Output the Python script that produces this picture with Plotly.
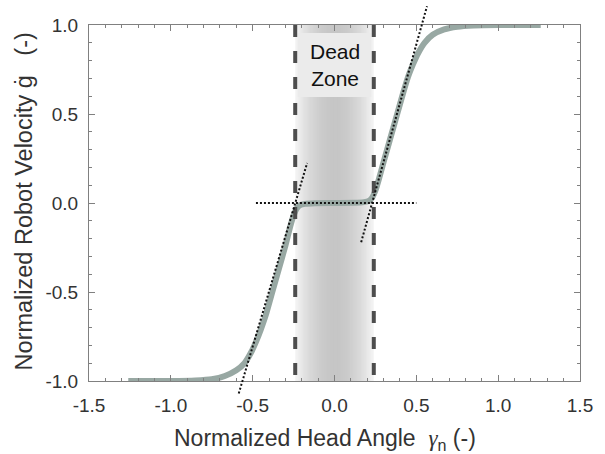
import plotly.graph_objects as go

# ---------------- data ----------------
X_RANGE = [-1.5, 1.5]
Y_RANGE = [-1.0, 1.0]
x_tickvals = [-1.5, -1.0, -0.5, 0.0, 0.5, 1.0, 1.5]
x_ticktext = ["-1.5", "-1.0", "-0.5", "0.0", "0.5", "1.0", "1.5"]
y_tickvals = [-1.0, -0.5, 0.0, 0.5, 1.0]
y_ticktext = ["-1.0", "-0.5", "0.0", "0.5", "1.0"]

head_angle = [-1.26, -1.00, -0.85, -0.75, -0.67, -0.60, -0.55, -0.51, -0.48, -0.45,
              -0.42, -0.38, -0.34, -0.30, -0.27, -0.25, -0.23, -0.21, -0.18, -0.12,
              0.00,
              0.12, 0.18, 0.21, 0.23, 0.25, 0.27, 0.30, 0.34, 0.38, 0.42,
              0.45, 0.48, 0.51, 0.55, 0.60, 0.67, 0.75, 0.85, 1.00, 1.26]
robot_velocity = [-1.0, -1.0, -0.997, -0.99, -0.972, -0.94, -0.90, -0.84, -0.78, -0.71,
                  -0.63, -0.50, -0.37, -0.24, -0.13, -0.07, -0.03, -0.012, -0.005, -0.001,
                  0.0,
                  0.001, 0.005, 0.012, 0.03, 0.07, 0.13, 0.23, 0.36, 0.49, 0.62,
                  0.71, 0.78, 0.84, 0.90, 0.945, 0.975, 0.99, 0.997, 1.0, 1.0]

dead_zone = [-0.24, 0.24]
label_box_x = [-0.225, 0.225]
label_box_y = [0.595, 0.955]
label_text = "Dead<br>Zone"
label_pos = [0.0, 0.775]

tangent_left_x = [-0.585, -0.167]
tangent_left_y = [-1.07, 0.225]
tangent_right_x = [0.163, 0.565]
tangent_right_y = [-0.22, 1.105]
zero_line_x = [-0.48, 0.50]
zero_line_y = [0.0, 0.0]

# ---------------- figure ----------------
FONT = "Liberation Sans, Arial, sans-serif"
fig = go.Figure()

fig.add_trace(go.Scatter(
    x=head_angle, y=robot_velocity, mode="lines",
    line=dict(color="#98a8a3", width=6, shape="spline", smoothing=0.6),
    hoverinfo="skip", showlegend=False,
))

shapes = []
# gradient band of the dead zone: nested rectangles, light outside -> darker centre
n_steps = 30
half = (dead_zone[1] - dead_zone[0]) / 2
mid = (dead_zone[1] + dead_zone[0]) / 2
for k in range(n_steps):
    t = 1 - k / n_steps
    g = int(round(198 + 46 * t ** 2))
    shapes.append(dict(type="rect", xref="x", yref="y", x0=mid - half * t, x1=mid + half * t,
                       y0=Y_RANGE[0], y1=Y_RANGE[1], layer="below",
                       fillcolor=f"rgb({g},{g},{g})", line=dict(width=0)))
# light label box
shapes.append(dict(type="rect", xref="x", yref="y", x0=label_box_x[0], x1=label_box_x[1],
                   y0=label_box_y[0], y1=label_box_y[1], layer="below",
                   fillcolor="#ebebeb", line=dict(width=0)))
# dashed dead-zone borders
for xd in dead_zone:
    shapes.append(dict(type="line", xref="x", yref="y", x0=xd, x1=xd,
                       y0=Y_RANGE[1], y1=Y_RANGE[0], layer="above",
                       line=dict(color="#4d4d4d", width=4, dash="12px,14px")))


# dotted tangent lines (they extend past the frame -> axis-domain refs, unclipped)
def xd_(v):
    return (v - X_RANGE[0]) / (X_RANGE[1] - X_RANGE[0])


def yd_(v):
    return (v - Y_RANGE[0]) / (Y_RANGE[1] - Y_RANGE[0])


for xs, ys in [(tangent_left_x, tangent_left_y), (tangent_right_x, tangent_right_y),
               (zero_line_x, zero_line_y)]:
    shapes.append(dict(type="line", xref="x domain", yref="y domain",
                       x0=xd_(xs[0]), x1=xd_(xs[1]), y0=yd_(ys[0]), y1=yd_(ys[1]),
                       layer="above", line=dict(color="#111111", width=2, dash="2px,2px")))

axis_common = dict(
    showline=True, linecolor="#808080", linewidth=1, mirror="allticks",
    ticks="inside", ticklen=6, tickcolor="#808080", tickwidth=1,
    showgrid=False, zeroline=False,
    tickfont=dict(family=FONT, size=19, color="#333333"),
    minor=dict(ticks="inside", ticklen=3, tick0=0, dtick=0.1, tickcolor="#808080",
               tickwidth=1, showgrid=False),
)

fig.update_layout(
    width=605, height=454,
    margin=dict(l=89, r=17, t=25, b=73),
    paper_bgcolor="white", plot_bgcolor="white",
    font=dict(family=FONT, color="#333333"),
    shapes=shapes,
    xaxis=dict(range=X_RANGE, tickmode="array", tickvals=x_tickvals, ticktext=x_ticktext,
               ticklabelstandoff=7, **axis_common),
    yaxis=dict(range=Y_RANGE, tickmode="array", tickvals=y_tickvals, ticktext=y_ticktext,
               ticklabelstandoff=6, **axis_common),
    annotations=[
        dict(text=label_text, x=label_pos[0], y=label_pos[1], xref="x", yref="y",
             showarrow=False, font=dict(family=FONT, size=21, color="#111111")),
        dict(text='Normalized Head Angle  <span style="font-family:Liberation Serif"><i>γ</i></span><sub>n</sub> (-)',
             xref="paper", yref="paper", x=0.48, y=-0.163, xanchor="center", yanchor="middle",
             showarrow=False, font=dict(family=FONT, size=23, color="#333333")),
        dict(text="Normalized Robot Velocity ġ   (-)", textangle=-90,
             xref="paper", yref="paper", x=-0.132, y=0.505, xanchor="center", yanchor="middle",
             showarrow=False, font=dict(family=FONT, size=23.5, color="#333333")),
    ],
)

fig.write_html("out.html", config={"displayModeBar": False},
               post_script="document.body.style.margin='0';")
